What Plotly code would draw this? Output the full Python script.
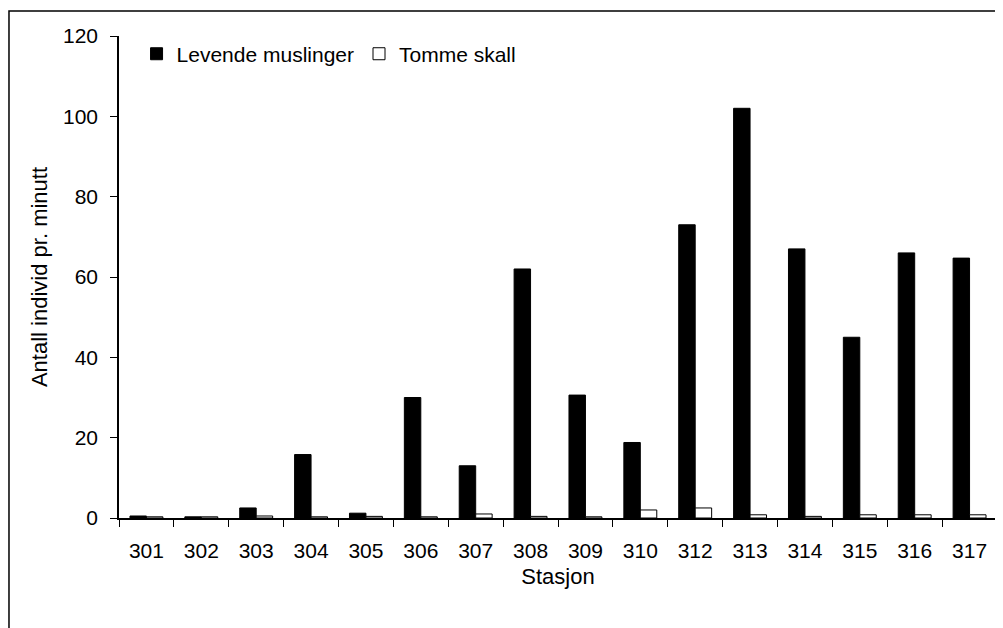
import plotly.graph_objects as go

stations = ['301', '302', '303', '304', '305', '306', '307', '308',
            '309', '310', '312', '313', '314', '315', '316', '317']
levende = [0.5, 0.3, 2.5, 15.8, 1.2, 30, 13, 62, 30.6, 18.8, 73, 102, 67, 45, 66, 64.7]
tomme = [0.3, 0.3, 0.5, 0.3, 0.4, 0.3, 1.0, 0.4, 0.3, 2.0, 2.5, 0.8, 0.4, 0.8, 0.8, 0.8]

font = 'Liberation Sans, Arial, sans-serif'

fig = go.Figure()
fig.add_trace(go.Bar(x=stations, y=levende, name='Levende muslinger',
                     marker=dict(color='black', line=dict(color='black', width=1))))
fig.add_trace(go.Bar(x=stations, y=tomme, name='Tomme skall',
                     marker=dict(color='white', line=dict(color='black', width=1))))

# page body adds 8px margin, so the figure is a bit smaller than the window
fig.update_layout(
    width=995, height=620,
    margin=dict(l=111, r=6, t=28, b=110),
    paper_bgcolor='white', plot_bgcolor='white',
    barmode='group', bargap=0.4, bargroupgap=0,
    font=dict(family=font, size=21, color='black'),
    legend=dict(orientation='h', x=0.02, y=1.005, xanchor='left', yanchor='top',
                font=dict(size=21), itemwidth=30, bgcolor='rgba(0,0,0,0)'),
    showlegend=True,
)

fig.update_xaxes(
    type='category', showline=True, linecolor='black', linewidth=1.5,
    ticks='outside', tickson='boundaries', ticklen=7, tickcolor='black',
    ticklabelstandoff=13, showgrid=False, automargin=False,
    title=dict(text='Stasjon', font=dict(size=22), standoff=8),
)
fig.update_yaxes(
    range=[0, 120], dtick=20, showline=True, linecolor='black', linewidth=1.5,
    ticks='outside', ticklen=7, tickcolor='black', ticklabelstandoff=8,
    showgrid=False, zeroline=False, automargin=False,
    title=dict(text='Antall individ pr. minutt', font=dict(size=22), standoff=9),
)

# outer chart border
fig.add_shape(type='rect', xref='paper', yref='paper',
              x0=-0.1253, y0=-0.4, x1=1.1, y1=1.052,
              line=dict(color='black', width=1.5), fillcolor='rgba(0,0,0,0)')

fig.write_html('out.html')
